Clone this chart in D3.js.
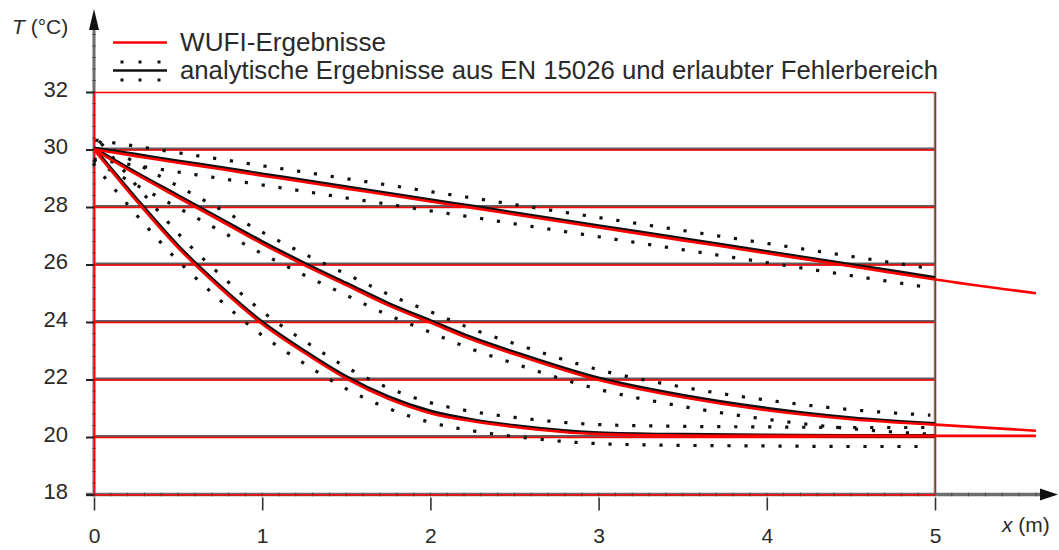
<!DOCTYPE html>
<html>
<head>
<meta charset="utf-8">
<script src="https://cdn.jsdelivr.net/npm/d3@7"></script>
<style>
  html, body { margin: 0; padding: 0; background: #fff; }
  svg { display: block; font-family: "Liberation Sans", Arial, sans-serif; }
</style>
</head>
<body>
<svg id="chart" width="1059" height="550"></svg>
<script>
// Temperature profiles T(x) in a semi-infinite wall, three points in time
const xPos = [0, 0.25, 0.5, 0.75, 1, 1.25, 1.5, 1.75, 2, 2.25, 2.5, 3, 3.5, 4, 4.5, 5];

// analytical solution (EN 15026), °C
const analyticSlow   = [30, 29.78, 29.55, 29.33, 29.1, 28.88, 28.65, 28.43, 28.2, 27.98, 27.75, 27.3, 26.85, 26.4, 25.95, 25.5];
const analyticMedium = [30, 29.15, 28.35, 27.55, 26.75, 26.0, 25.3, 24.6, 24.0, 23.4, 22.9, 22.0, 21.4, 20.95, 20.62, 20.42];
const analyticFast   = [30, 28.25, 26.6, 25.2, 23.95, 22.95, 22.05, 21.35, 20.85, 20.55, 20.35, 20.1, 20.04, 20.02, 20.0, 20.0];

// WUFI results, computed over a longer domain
const wufiX      = [0, 0.25, 0.5, 0.75, 1, 1.25, 1.5, 1.75, 2, 2.25, 2.5, 3, 3.5, 4, 4.5, 5, 5.6];
const wufiSlow   = [30, 29.77, 29.54, 29.32, 29.09, 28.87, 28.64, 28.42, 28.19, 27.97, 27.74, 27.29, 26.84, 26.39, 25.94, 25.48, 25.0];
const wufiMedium = [30, 29.14, 28.33, 27.53, 26.72, 25.98, 25.28, 24.58, 23.98, 23.38, 22.88, 21.98, 21.38, 20.93, 20.62, 20.43, 20.22];
const wufiFast   = [30, 28.23, 26.58, 25.18, 23.93, 22.93, 22.03, 21.33, 20.83, 20.55, 20.35, 20.1, 20.05, 20.04, 20.04, 20.04, 20.04];

const xTicks = [0, 1, 2, 3, 4, 5];
const yTicks = [18, 20, 22, 24, 26, 28, 30, 32];

const legendLabels = ["WUFI-Ergebnisse", "analytische Ergebnisse aus EN 15026 und erlaubter Fehlerbereich"];

const svg = d3.select("#chart");
const x = d3.scaleLinear().domain([0, 5]).range([94, 935]);
const y = d3.scaleLinear().domain([18, 32]).range([494.5, 92]);

const gray = "#6e6e6e";
const red = "#ff0000";
const ink = "#2a2a2a";

// ---- grid: dark line with a thin red line on top
const grid = svg.append("g");
yTicks.filter(t => t > 18).forEach(t => {
  if (t !== 32) {
    grid.append("line").attr("x1", x(0)).attr("x2", x(5))
      .attr("y1", y(t) - 0.5).attr("y2", y(t) - 0.5)
      .attr("stroke", "#444").attr("stroke-width", 2.8).attr("opacity", 0.85);
  }
  grid.append("line").attr("x1", x(0)).attr("x2", x(5))
    .attr("y1", y(t) + 0.5).attr("y2", y(t) + 0.5)
    .attr("stroke", red).attr("stroke-width", 1.3);
});
// right frame at x = 5
grid.append("line").attr("x1", x(5)).attr("x2", x(5)).attr("y1", y(32)).attr("y2", y(18))
  .attr("stroke", "#666").attr("stroke-width", 2.6).attr("opacity", 0.8);
grid.append("line").attr("x1", x(5) + 0.5).attr("x2", x(5) + 0.5).attr("y1", y(32)).attr("y2", y(18))
  .attr("stroke", red).attr("stroke-width", 1.2);

// ---- axes
const axes = svg.append("g");
// x axis with arrow
axes.append("line").attr("x1", 86).attr("x2", 1044).attr("y1", y(18)).attr("y2", y(18))
  .attr("stroke", gray).attr("stroke-width", 3.5);
axes.append("path").attr("d", `M1058,${y(18)} L1040,${y(18) - 6} L1040,${y(18) + 6} Z`).attr("fill", "#111");
// y axis with arrow
axes.append("line").attr("x1", x(0)).attr("x2", x(0)).attr("y1", y(18) + 2).attr("y2", 26)
  .attr("stroke", gray).attr("stroke-width", 3);
axes.append("path").attr("d", `M${x(0)},9 L${x(0) - 5},30 L${x(0) + 5},30 Z`).attr("fill", "#111");
// red lines along the plot frame
axes.append("line").attr("x1", x(0)).attr("x2", x(5)).attr("y1", y(18) + 0.5).attr("y2", y(18) + 0.5)
  .attr("stroke", red).attr("stroke-width", 1.3);
axes.append("line").attr("x1", x(0) + 0.5).attr("x2", x(0) + 0.5).attr("y1", y(32)).attr("y2", y(18))
  .attr("stroke", red).attr("stroke-width", 1.2);

// minor ticks
d3.range(0, 57).forEach(i => {
  const xv = i * 0.1;
  axes.append("line").attr("x1", x(xv)).attr("x2", x(xv)).attr("y1", y(18) - 2).attr("y2", y(18) + 2)
    .attr("stroke", "#333").attr("stroke-width", 1).attr("opacity", 0.6);
});
d3.range(0, 42).forEach(i => {
  const tv = 18 + i * 0.4;
  axes.append("line").attr("x1", x(0) - 2).attr("x2", x(0) + 2).attr("y1", y(tv)).attr("y2", y(tv))
    .attr("stroke", "#333").attr("stroke-width", 1).attr("opacity", 0.6);
});

// major ticks and labels
const xAxis = d3.axisBottom(x).tickValues(xTicks).tickSize(13).tickPadding(18).tickFormat(d3.format("d"));
const gx = svg.append("g").attr("transform", `translate(0,${y(18) + 3})`).call(xAxis);
gx.select(".domain").remove();
gx.selectAll(".tick line").attr("stroke", "#333").attr("stroke-width", 1.6);
gx.selectAll(".tick text").attr("fill", ink).attr("font-size", 21).attr("dy", "0.71em");

const yAxis = d3.axisLeft(y).tickValues(yTicks).tickSize(8).tickPadding(18).tickFormat(d3.format("d"));
const gy = svg.append("g").attr("transform", `translate(${x(0)},0)`).call(yAxis);
gy.select(".domain").remove();
gy.selectAll(".tick line").attr("stroke", "#222").attr("stroke-width", 2);
gy.selectAll(".tick text").attr("fill", ink).attr("font-size", 22).attr("dy", "0.2em");

// axis titles
const tTitle = svg.append("text").attr("x", 12).attr("y", 34).attr("font-size", 21).attr("fill", ink);
tTitle.append("tspan").attr("font-style", "italic").text("T");
tTitle.append("tspan").text(" (°C)");
const xTitle = svg.append("text").attr("x", 1002).attr("y", 532).attr("font-size", 21).attr("fill", ink);
xTitle.append("tspan").attr("font-style", "italic").text("x");
xTitle.append("tspan").text(" (m)");

// ---- curves
const line = d3.line().x(d => x(d[0])).y(d => y(d[1])).curve(d3.curveMonotoneX);
const analytic = [analyticSlow, analyticMedium, analyticFast];
const wufi = [wufiSlow, wufiMedium, wufiFast];

const bandOffset = 9.5;
const bandG = svg.append("g");
const analyticG = svg.append("g");
const wufiG = svg.append("g");

analytic.forEach(series => {
  const pts = xPos.map((xv, i) => [xv, series[i]]);
  const path = analyticG.append("path").attr("d", line(pts))
    .attr("fill", "none").attr("stroke", "#111").attr("stroke-width", 3.4)
    .attr("transform", "translate(0,-1.3)");

  // tolerance band: dotted lines parallel to the analytical curve
  const node = path.node();
  const len = node.getTotalLength();
  const samples = d3.range(0, len + 0.5, 1).map(l => node.getPointAtLength(Math.min(l, len)));
  [-1, 1].forEach(side => {
    const off = samples.map((p, i) => {
      const a = samples[Math.max(0, i - 3)], b = samples[Math.min(samples.length - 1, i + 3)];
      const dx = b.x - a.x, dy = b.y - a.y, n = Math.hypot(dx, dy) || 1;
      return [p.x - side * dy / n * bandOffset, p.y + side * dx / n * bandOffset];
    }).filter(p => p[0] >= x(0) - 1 && p[0] <= x(5) - 4);
    bandG.append("path").attr("d", d3.line()(off))
      .attr("fill", "none").attr("stroke", "#111").attr("stroke-width", 3.2)
      .attr("stroke-dasharray", "3.2,13.8");
  });
});

wufi.forEach(series => {
  const pts = wufiX.map((xv, i) => [xv, series[i]]);
  wufiG.append("path").attr("d", line(pts))
    .attr("fill", "none").attr("stroke", red).attr("stroke-width", 2.6);
});

// ---- legend
const lg = svg.append("g");
lg.append("line").attr("x1", 113).attr("x2", 167).attr("y1", 42.5).attr("y2", 42.5)
  .attr("stroke", red).attr("stroke-width", 2.4);
lg.append("line").attr("x1", 113).attr("x2", 167).attr("y1", 70.5).attr("y2", 70.5)
  .attr("stroke", "#111").attr("stroke-width", 2.4);
[122, 140, 159].forEach(cx => {
  [62, 80].forEach(cy => {
    lg.append("rect").attr("x", cx - 1.5).attr("y", cy - 1.5).attr("width", 3).attr("height", 3).attr("fill", "#111");
  });
});
lg.append("text").attr("x", 180).attr("y", 51).attr("font-size", 25).attr("fill", ink)
  .attr("textLength", 206).attr("lengthAdjust", "spacingAndGlyphs").text(legendLabels[0]);
lg.append("text").attr("x", 180).attr("y", 79).attr("font-size", 25).attr("fill", ink)
  .attr("textLength", 758).attr("lengthAdjust", "spacingAndGlyphs").text(legendLabels[1]);
</script>
</body>
</html>
